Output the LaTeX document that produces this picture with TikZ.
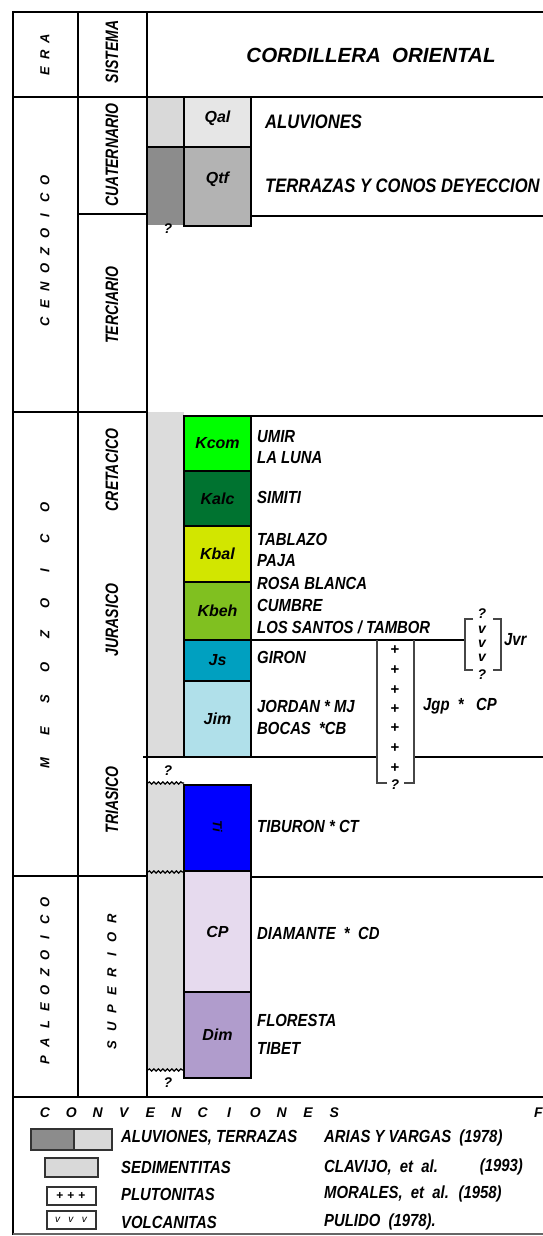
\documentclass[tikz,border=0pt]{standalone}
\usepackage{fontspec}
\setmainfont{Liberation Sans}
\newfontfamily\bodyf{Liberation Sans}[FakeStretch=0.85]
\newfontfamily\sysf{Liberation Sans}[FakeStretch=0.78]
\usetikzlibrary{decorations.pathmorphing}
\definecolor{kcom}{RGB}{0,255,0}
\definecolor{kalc}{RGB}{0,115,48}
\definecolor{kbal}{RGB}{210,230,0}
\definecolor{kbeh}{RGB}{128,192,32}
\definecolor{jsc}{RGB}{0,160,192}
\definecolor{jim}{RGB}{176,224,234}
\definecolor{tic}{RGB}{0,0,255}
\definecolor{cpc}{RGB}{230,218,238}
\definecolor{dimc}{RGB}{176,156,204}
\definecolor{sedg}{RGB}{220,220,220}
\definecolor{qalb}{RGB}{230,230,230}
\definecolor{qals}{RGB}{217,217,217}
\definecolor{qtfb}{RGB}{179,179,179}
\definecolor{qtfs}{RGB}{140,140,140}
\definecolor{brk}{RGB}{70,70,70}
\begin{document}
\begin{tikzpicture}[x=1pt,y=-1pt,
  rule/.style={line width=2.6pt},
  unitbox/.style={draw, line width=2.6pt, minimum width=67pt, inner sep=0pt,
    font=\bfseries\itshape\fontsize{16}{18}\selectfont},
  boxlab/.style={inner sep=0pt, font=\bfseries\itshape\fontsize{16}{18}\selectfont},
  form/.style={anchor=west, inner sep=0pt, font=\bodyf\bfseries\itshape\fontsize{17.5}{19}\selectfont},
  bigform/.style={anchor=west, inner sep=0pt, font=\bodyf\bfseries\itshape\fontsize{19.5}{21}\selectfont},
  sys/.style={rotate=90, inner sep=0pt, font=\sysf\bfseries\itshape\fontsize{18}{20}\selectfont},
  era/.style={rotate=90, inner sep=0pt, font=\bfseries\itshape\fontsize{13}{15}\selectfont},
  conv/.style={inner sep=0pt, font=\bfseries\itshape\fontsize{14}{16}\selectfont},
  qm/.style={inner sep=0pt, font=\bfseries\itshape\fontsize{14}{16}\selectfont},
  plus/.style={inner sep=0pt, font=\bfseries\fontsize{15}{16}\selectfont},
  bracket/.style={draw=brk, line width=1.8pt},
  wavy/.style={decorate, decoration={snake, amplitude=1.1pt, segment length=4.5pt}, line width=1.2pt},
  swatch/.style={draw=black!80, line width=2pt, inner sep=0pt}
]
\useasboundingbox (0,0) rectangle (543,1236);
% strips
\fill[qals] (148,97) rectangle (184,147);
\fill[qtfs] (148,147) rectangle (184,225);
\fill[sedg] (148,412) rectangle (184,757);
\fill[sedg] (148,783) rectangle (184,1070);
\draw[wavy] (148,783) -- (184,783);
\draw[wavy] (148,872) -- (184,872);
\draw[wavy] (148,1070) -- (184,1070);
% unit boxes
\node[unitbox, fill=qalb, minimum height=50pt] (qal) at (217.5,122) {};
\node[unitbox, fill=qtfb, minimum height=79pt] (qtf) at (217.5,186.5) {};
\node[boxlab] (qallab) at (217.5,118) {Qal};
\node[boxlab] (qtflab) at (217.5,179) {Qtf};
\node[unitbox, fill=kcom, minimum height=55pt] (kcomb) at (217.5,443.5) {Kcom};
\node[unitbox, fill=kalc, minimum height=55pt] (kalcb) at (217.5,498.5) {Kalc};
\node[unitbox, fill=kbal, minimum height=56pt] (kbalb) at (217.5,554) {Kbal};
\node[unitbox, fill=kbeh, minimum height=58pt] (kbehb) at (217.5,611) {Kbeh};
\node[unitbox, fill=jsc, minimum height=41pt] (jsb) at (217.5,660.5) {Js};
\node[unitbox, fill=jim, minimum height=76pt] (jimb) at (217.5,719) {Jim};
\node[unitbox, fill=tic, minimum height=86pt] (tib) at (217.5,828) {};
\node[inner sep=0pt, rotate=-90, font=\bfseries\itshape\fontsize{13}{14}\selectfont] (tilab) at (217.5,826) {Ti};
\node[unitbox, fill=cpc, minimum height=121pt] (cpb) at (217.5,931.5) {CP};
\node[unitbox, fill=dimc, minimum height=86pt] (dimb) at (217.5,1035) {Dim};
% frame and rules
\draw[rule] (13,12) -- (543,12);
\draw[rule] (13,11) -- (13,1235);
\draw[rule] (78,12) -- (78,1097);
\draw[rule] (147,12) -- (147,1097);
\draw[rule] (13,97) -- (543,97);
\draw[rule] (78,214) -- (147,214);
\draw[rule] (147,147) -- (251,147);
\draw[rule] (13,412) -- (147,412);
\draw[rule] (251,216) -- (543,216);
\draw[rule] (184,416) -- (543,416);
\draw[rule] (251,640) -- (465,640);
\draw[rule] (143,757) -- (377,757);
\draw[rule] (414,757) -- (543,757);
\draw[rule] (13,876) -- (147,876);
\draw[rule] (251,877) -- (543,877);
\draw[rule] (13,1097) -- (543,1097);
\draw[black!60, line width=1.5pt] (13,1234) -- (543,1234);
% question marks in sediment strip
\node[qm] (q1) at (168,229) {?};
\node[qm] (q2) at (168,771) {?};
\node[qm] (q3) at (168,1083) {?};
% header
\node[era] (eraE) at (45,71) {E};
\node[era] (eraR) at (45,55) {R};
\node[era] (eraA) at (45,39) {A};
\node[sys] (sistema) at (112,52) {SISTEMA};
\node[inner sep=0pt, font=\bfseries\itshape\fontsize{20.5}{22}\selectfont] (title) at (371,55) {CORDILLERA\ \ ORIENTAL};
% eras
\foreach \l [count=\i from 0] in {C,E,N,O,Z,O,I,C,O}
  \node[era] (ceno\i) at (45,{322-17.7*\i}) {\l};
\foreach \l [count=\i from 0] in {M,E,S,O,Z,O,I,C,O}
  \node[era] (meso\i) at (45,{763-32*\i}) {\l};
\foreach \l [count=\i from 0] in {P,A,L,E,O,Z,O,I,C,O}
  \node[era] (paleo\i) at (45,{1060-17.5*\i}) {\l};
\foreach \l [count=\i from 0] in {S,U,P,E,R,I,O,R}
  \node[era] (sup\i) at (112,{1045-18*\i}) {\l};
% systems
\node[sys] (cuat) at (112,155) {CUATERNARIO};
\node[sys] (terc) at (112,305) {TERCIARIO};
\node[sys] (cret) at (112,470) {CRETACICO};
\node[sys] (jur) at (112,620) {JURASICO};
\node[sys] (trias) at (112,800) {TRIASICO};
% formation names
\node[bigform] (t1) at (265,122) {ALUVIONES};
\node[bigform] (t2) at (265,186) {TERRAZAS Y CONOS DEYECCION};
\node[form] (f1) at (257,437) {UMIR};
\node[form] (f2) at (257,458) {LA LUNA};
\node[form] (f3) at (257,497) {SIMITI};
\node[form] (f4) at (257,539) {TABLAZO};
\node[form] (f5) at (257,561) {PAJA};
\node[form] (f6) at (257,583) {ROSA BLANCA};
\node[form] (f7) at (257,605) {CUMBRE};
\node[form] (f8) at (257,627) {LOS SANTOS / TAMBOR};
\node[form] (f9) at (257,657) {GIRON};
\node[form] (f10) at (257,706) {JORDAN * MJ};
\node[form] (f11) at (257,728) {BOCAS \ *CB};
\node[form] (f12) at (257,826) {TIBURON * CT};
\node[form] (f13) at (257,933) {DIAMANTE \ * \ CD};
\node[form] (f14) at (257,1020) {FLORESTA};
\node[form] (f15) at (257,1048) {TIBET};
% plutonic bracket
\draw[bracket] (387,783) -- (377,783) -- (377,640);
\draw[bracket] (404,783) -- (414,783) -- (414,640);
\foreach \yy [count=\i] in {650,670,690,709,728,748,768}
  \node[plus] (plus\i) at (395,\yy) {+};
\node[qm] (qp) at (395,785) {?};
\node[form] (jgp) at (423,706) {Jgp \ * \ \ CP};
% volcanic bracket
\draw[bracket] (473,619) -- (465,619) -- (465,670) -- (473,670);
\draw[bracket] (493,619) -- (501,619) -- (501,670) -- (493,670);
\node[qm] (qv1) at (482,614) {?};
\node[qm] (v1) at (482,630) {v};
\node[qm] (v2) at (482,644) {v};
\node[qm] (v3) at (482,658) {v};
\node[qm] (qv2) at (482,675) {?};
\node[form] (jvr) at (504,640) {Jvr};
% legend
\foreach \l [count=\i from 0] in {C,O,N,V,E,N,C,I,O,N,E,S}
  \node[conv] (conv\i) at ({45+26.3*\i},1113) {\l};
\node[conv, anchor=west] (fu) at (534,1113) {F};
\node[swatch, fill=qtfs, minimum width=43pt, minimum height=21pt] (lg1a) at (52.5,1139) {};
\node[swatch, fill=qals, minimum width=38pt, minimum height=21pt] (lg1b) at (93,1139) {};
\node[swatch, fill=qals, minimum width=53pt, minimum height=19pt] (lg2) at (71,1167) {};
\node[swatch, fill=white, minimum width=49pt, minimum height=18pt, font=\bfseries\fontsize{12}{12}\selectfont] (lg3) at (71,1196) {+\,\,+\,\,+};
\node[swatch, fill=white, minimum width=49pt, minimum height=18pt, font=\itshape\fontsize{10}{10}\selectfont] (lg4) at (71,1220) {v\ \ \ v\ \ \ v};
\node[form] (l1) at (121,1138) {ALUVIONES, TERRAZAS};
\node[form] (l2) at (121,1167) {SEDIMENTITAS};
\node[form] (l3) at (121,1194) {PLUTONITAS};
\node[form] (l4) at (121,1222) {VOLCANITAS};
\node[form] (r1) at (324,1138) {ARIAS Y VARGAS \ (1978)};
\node[form] (r2) at (324,1167) {CLAVIJO, \ et \ al.};
\node[form, anchor=east] (r2b) at (523,1167) {(1993)};
\node[form] (r3) at (324,1194) {MORALES, \ et \ al. \ (1958)};
\node[form] (r4) at (324,1222) {PULIDO \ (1978).};
\end{tikzpicture}
\end{document}
